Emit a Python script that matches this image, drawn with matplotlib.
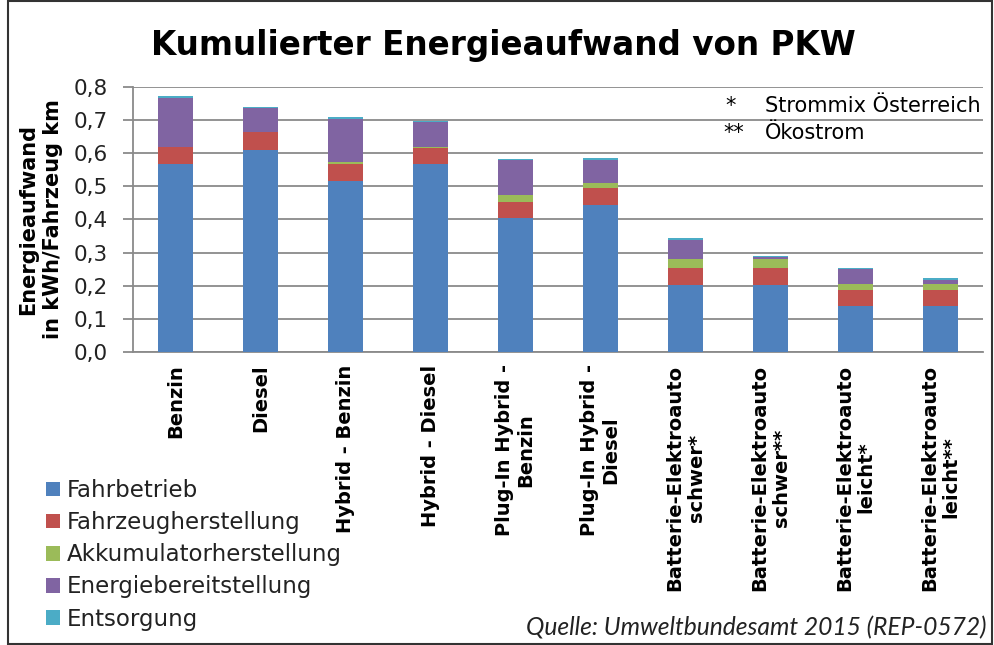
import matplotlib
matplotlib.use("Agg")
import matplotlib.pyplot as plt
from matplotlib import font_manager
from matplotlib.patches import Rectangle
import numpy as np

categories = [
    "Benzin", "Diesel", "Hybrid - Benzin", "Hybrid - Diesel",
    "Plug-In Hybrid -\nBenzin", "Plug-In Hybrid -\nDiesel",
    "Batterie-Elektroauto\nschwer*", "Batterie-Elektroauto\nschwer**",
    "Batterie-Elektroauto\nleicht*", "Batterie-Elektroauto\nleicht**",
]
series_names = ["Fahrbetrieb", "Fahrzeugherstellung", "Akkumulatorherstellung",
                "Energiebereitstellung", "Entsorgung"]
fahrbetrieb = [0.566, 0.609, 0.515, 0.566, 0.405, 0.442, 0.201, 0.201, 0.139, 0.139]
fahrzeugherstellung = [0.053, 0.053, 0.052, 0.048, 0.047, 0.053, 0.053, 0.053, 0.047, 0.047]
akkumulatorherstellung = [0.0, 0.0, 0.006, 0.005, 0.021, 0.014, 0.026, 0.026, 0.020, 0.020]
energiebereitstellung = [0.147, 0.073, 0.131, 0.074, 0.106, 0.070, 0.059, 0.005, 0.043, 0.012]
entsorgung = [0.005, 0.005, 0.004, 0.004, 0.004, 0.005, 0.005, 0.005, 0.005, 0.005]
ytick_values = [0.0, 0.1, 0.2, 0.3, 0.4, 0.5, 0.6, 0.7, 0.8]
ytick_labels = ["0,0", "0,1", "0,2", "0,3", "0,4", "0,5", "0,6", "0,7", "0,8"]

colors = ["#4F81BD", "#C0504D", "#9BBB59", "#8064A2", "#4BACC6"]
series = [fahrbetrieb, fahrzeugherstellung, akkumulatorherstellung,
          energiebereitstellung, entsorgung]

installed = {f.name for f in font_manager.fontManager.ttflist}
narrow = "Liberation Sans Narrow" in installed

W, H = 995, 645
fig = plt.figure(figsize=(W / 100, H / 100), dpi=100)
fig.patch.set_facecolor("white")

ax = fig.add_axes([133 / W, 1 - 352 / H, 850 / W, (352 - 86.7) / H])
x = np.arange(len(categories))
bottom = np.zeros(len(categories))
handles = []
for name, vals, col in zip(series_names, series, colors):
    b = ax.bar(x, vals, width=0.41, bottom=bottom, color=col, label=name,
               linewidth=0, zorder=3)
    handles.append(b)
    bottom += np.array(vals)

gc = "#8A8A8A"
ax.set_xlim(-0.5, len(categories) - 0.5)
ax.set_ylim(0, 0.8)
ax.set_yticks(ytick_values)
ax.set_yticklabels(ytick_labels, fontsize=15.5, color="#222222")
ax.set_xticks(x)
ax.set_xticklabels(categories, rotation=90, fontsize=14, fontweight="bold",
                   ha="center", va="top", linespacing=1.15)
ax.tick_params(axis="x", length=0, pad=9)
ax.tick_params(axis="y", direction="out", length=7, width=1.3, color=gc, pad=11)
ax.yaxis.grid(True, color=gc, linewidth=1.3, zorder=0)
ax.set_axisbelow(True)
for s in ["top", "right"]:
    ax.spines[s].set_visible(False)
for s in ["left", "bottom"]:
    ax.spines[s].set_color(gc)
    ax.spines[s].set_linewidth(1.3)

ax.set_ylabel("Energieaufwand\nin kWh/Fahrzeug km", fontsize=15, fontweight="bold",
              linespacing=1.3)
ax.yaxis.set_label_coords(-0.082, 0.5)

# title
if narrow:
    fig.text(503 / W, 1 - 45 / H, "Kumulierter Energieaufwand von PKW",
             family="Liberation Sans Narrow", fontweight="bold", fontsize=30,
             ha="center", va="center")
else:
    fig.text(503 / W, 1 - 45 / H, "Kumulierter Energieaufwand von PKW",
             fontweight="bold", fontsize=23.5, ha="center", va="center")

# legend
fig.legend(handles=handles, labels=series_names, loc="upper left",
           bbox_to_anchor=(46 / W, 1 - 479 / H), frameon=False, fontsize=16.5,
           handlelength=0.6, handleheight=0.6, handletextpad=0.3,
           labelspacing=0.4, borderpad=0, borderaxespad=0,
           labelcolor="#222222")

# note
fig.text(725 / W, 1 - 106 / H, "*", fontsize=15, ha="left", va="center")
fig.text(765 / W, 1 - 106 / H, "Strommix Österreich", fontsize=15, ha="left", va="center")
fig.text(723 / W, 1 - 133 / H, "**", fontsize=15, ha="left", va="center")
fig.text(765 / W, 1 - 133 / H, "Ökostrom", fontsize=15, ha="left", va="center")

# source
fig.text(987 / W, 1 - 628 / H, "Quelle: Umweltbundesamt 2015 (REP-0572)",
         family=["Lato", "DejaVu Sans"], style="italic", fontsize=17.7,
         ha="right", va="center", color="#222222")

# outer border
fig.patches.append(Rectangle((8 / W, 1 / H), (992 - 8) / W, (635 - 1 + 9) / H,
                             transform=fig.transFigure, fill=False,
                             edgecolor="#333333", linewidth=1.5))

fig.savefig("out.png", dpi=100)
